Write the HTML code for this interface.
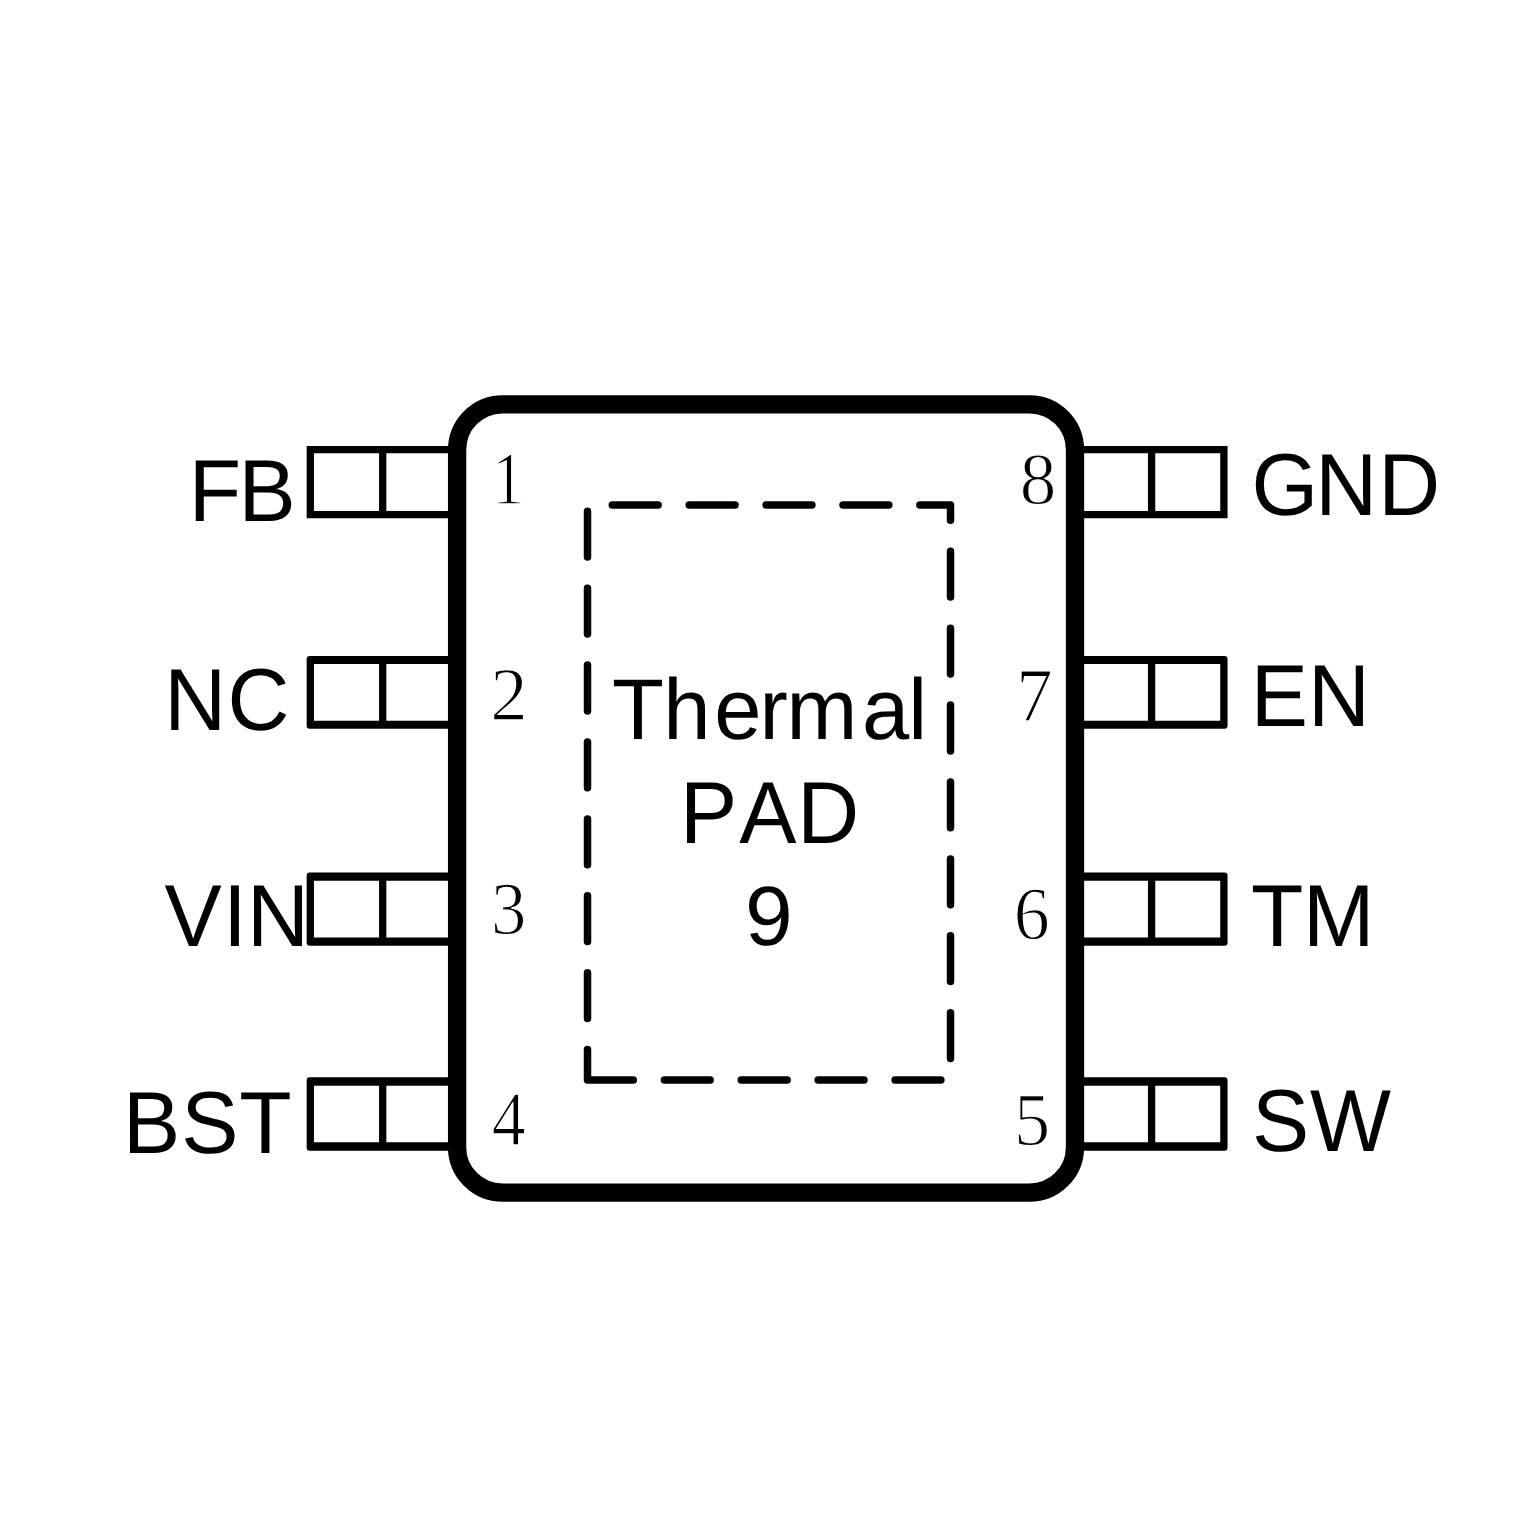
<!DOCTYPE html>
<html lang="en">
<head>
<meta charset="utf-8">
<title>Pin configuration</title>
<style>
html,body{margin:0;padding:0;background:#fff}
body{width:1535px;height:1535px;overflow:hidden}
svg{display:block}
text{fill:#000;font-kerning:none;text-rendering:geometricPrecision}
text.l{font-family:"Liberation Sans",sans-serif}
text.d{font-family:"Liberation Serif",serif;stroke:#fff;stroke-width:1.2px}
</style>
</head>
<body>
<svg width="1535" height="1535" viewBox="0 0 1535 1535" role="img" aria-label="Pin configuration">
<rect width="1535" height="1535" fill="#fff"/>
<g fill="#000" fill-rule="evenodd">
<path d="M457.1 446.05H306.65V518.25H457.1ZM313.95 453.35H379.05V510.95H313.95ZM386.35 453.35H457.1V510.95H386.35Z"/>
<path d="M457.1 656H309.65A3 3 0 0 0 306.65 659V725.7A3 3 0 0 0 309.65 728.7H457.1ZM313.95 663.9H379.05V720.8H313.95ZM386.35 663.9H457.1V720.8H386.35Z"/>
<path d="M457.1 872.4H309.65A3 3 0 0 0 306.65 875.4V942.7A3 3 0 0 0 309.65 945.7H457.1ZM313.95 880.7H379.05V937.4H313.95ZM386.35 880.7H457.1V937.4H386.35Z"/>
<path d="M457.1 1077.2H309.65A3 3 0 0 0 306.65 1080.2V1147.7A3 3 0 0 0 309.65 1150.7H457.1ZM313.95 1085.7H379.05V1142.2H313.95ZM386.35 1085.7H457.1V1142.2H386.35Z"/>
<path d="M1075 446.05H1227.55V518.25H1075ZM1075 453.35H1147.95V510.95H1075ZM1155.25 453.35H1220.25V510.95H1155.25Z"/>
<path d="M1075 656H1224.55A3 3 0 0 1 1227.55 659V725.7A3 3 0 0 1 1224.55 728.7H1075ZM1075 663.9H1147.95V720.8H1075ZM1155.25 663.9H1220.25V720.8H1155.25Z"/>
<path d="M1075 872.4H1224.55A3 3 0 0 1 1227.55 875.4V942.7A3 3 0 0 1 1224.55 945.7H1075ZM1075 880.7H1147.95V937.4H1075ZM1155.25 880.7H1220.25V937.4H1155.25Z"/>
<path d="M1075 1077.2H1224.55A3 3 0 0 1 1227.55 1080.2V1147.7A3 3 0 0 1 1224.55 1150.7H1075ZM1075 1085.7H1147.95V1142.2H1075ZM1155.25 1085.7H1220.25V1142.2H1155.25Z"/>
</g>
<rect x="457.1" y="404.3" width="617.9" height="788.35" rx="45.5" ry="45.5" fill="#fff" stroke="#000" stroke-width="18.3"/>
<path d="M587.5 1080H950.5V505H587.5Z" fill="none" stroke="#000" stroke-width="7.5" stroke-linecap="round" stroke-linejoin="round" stroke-dasharray="45.8 31.1" stroke-dashoffset="0"/>
<g>
<text class="l" transform="matrix(1 0 0 1.0260 0 520.8)" x="188.8 238.51" y="0" font-size="85.8">FB</text>
<text class="l" transform="matrix(1 0 0 1.0260 0 730.4)" x="164.3 227.45" y="0" font-size="85.8">NC</text>
<text class="l" transform="matrix(1 0 0 1.0260 0 945.6)" x="164.6 223.12 246.96" y="0" font-size="85.8">VIN</text>
<text class="l" transform="matrix(1 0 0 1.0260 0 1153.1)" x="123 181.22 239.24" y="0" font-size="85.8">BST</text>
<text class="l" transform="matrix(1 0 0 1.0260 0 515)" x="1251.5 1315.23 1378.29" y="0" font-size="85.8">GND</text>
<text class="l" transform="matrix(1 0 0 1.0260 0 726.1)" x="1250.7 1308.12" y="0" font-size="85.8">EN</text>
<text class="l" transform="matrix(1 0 0 1.0260 0 946)" x="1251.1 1302.91" y="0" font-size="85.8">TM</text>
<text class="l" transform="matrix(1 0 0 1.0260 0 1150.5)" x="1252 1310.02" y="0" font-size="85.8">SW</text>
<text class="l" transform="matrix(1 0 0 1.0150 0 738.5)" x="611.9 663.16 714.29 759.55 786.42 862.08 908.14" y="0" font-size="85">Thermal</text>
<text class="l" transform="matrix(1 0 0 1.0260 0 842.8)" x="680 739.32 797.24" y="0" font-size="85.8">PAD</text>
<text class="l" transform="matrix(1 0 0 0.9800 0 944.5)" x="745.1" y="0" font-size="85.8">9</text>
<text class="d" transform="matrix(0.8800 0 0 1.0443 492.33 503.65)" x="0" y="0" font-size="72">1</text>
<text class="d" transform="matrix(1.0389 0 0 1.0544 490.2 720.36)" x="0" y="0" font-size="72">2</text>
<text class="d" transform="matrix(0.9825 0 0 1.0440 491.05 933.57)" x="0" y="0" font-size="72">3</text>
<text class="d" transform="matrix(0.9457 0 0 1.0732 491.81 1144.87)" x="0" y="0" font-size="72">4</text>
<text class="d" transform="matrix(1.0154 0 0 1.0280 1019.87 503.57)" x="0" y="0" font-size="72">8</text>
<text class="d" transform="matrix(1.0107 0 0 1.0616 1016.27 720.66)" x="0" y="0" font-size="72">7</text>
<text class="d" transform="matrix(1.0000 0 0 1.0440 1013.75 939.07)" x="0" y="0" font-size="72">6</text>
<text class="d" transform="matrix(1.0045 0 0 1.0488 1013.93 1144.67)" x="0" y="0" font-size="72">5</text>
</g>
</svg>
</body>
</html>
